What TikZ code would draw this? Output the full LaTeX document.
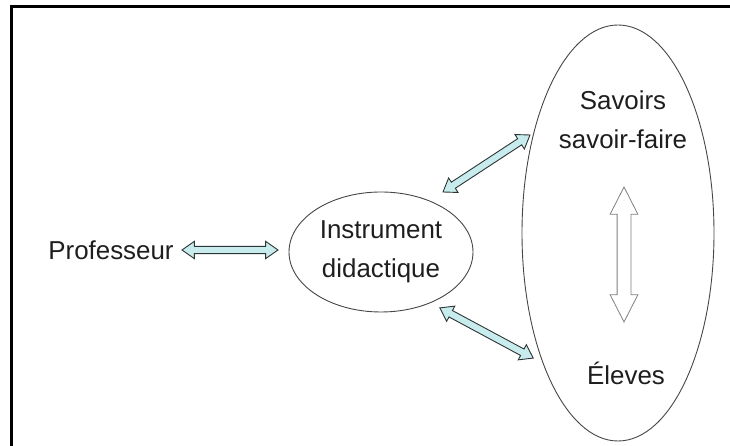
\documentclass[tikz,border=0pt]{standalone}
\usepackage{fontspec}
\setmainfont{Liberation Sans}
\usetikzlibrary{shapes.geometric,shapes.arrows}
\definecolor{linkfill}{RGB}{200,236,238}
\definecolor{linkline}{RGB}{45,52,52}
\definecolor{inkgray}{RGB}{70,70,70}
\definecolor{textink}{RGB}{30,30,30}
\begin{document}
\begin{tikzpicture}[x=1bp,y=1bp,
  lbl/.style={font=\fontsize{26}{39}\selectfont, text=textink, align=center, inner sep=0},
  oval/.style={ellipse, draw=inkgray, line width=0.9bp, inner sep=0},
  linkarrow/.style={double arrow, draw=linkline, fill=linkfill, line width=0.9bp,
    inner xsep=0, inner ysep=3.2bp, minimum width=17bp, double arrow head extend=5bp,
    double arrow tip angle=70, sloped},
  whitearrow/.style={double arrow, draw=gray, fill=white, line width=0.8bp,
    inner xsep=0, inner ysep=6.5bp, minimum width=27bp, double arrow head extend=7bp,
    double arrow tip angle=54, sloped}]
\useasboundingbox (0,0) rectangle (730,446);

% frame: top and left rules only
\draw[line width=3bp] (11.5,0) -- (11.5,439.5) -- (730,439.5);

% ovals
\node[oval, minimum width=192bp, minimum height=416bp] (grp) at (618,213) {};
\node[oval, minimum width=184bp, minimum height=120bp, lbl] (inst) at (381,194) {Instrument\\didactique};

% labels
\node[lbl] (prof) at (111,196) {Professeur};
\node[lbl] (sav) at (623,326) {Savoirs\\savoir-faire};
\node[lbl] (elev) at (626,73) {Éleves};

% arrow end points
\coordinate (p1) at (182,196);
\coordinate (p2) at (278,196);
\coordinate (u1) at (443,254);
\coordinate (u2) at (530,311);
\coordinate (d1) at (440,138);
\coordinate (d2) at (533,88);
\coordinate (v1) at (624,259);
\coordinate (v2) at (624,124);

% two-way links
\path (p1) -- (p2) node[midway, linkarrow, minimum height=96bp] (aprof) {};
\path (u1) -- (u2) node[midway, linkarrow, minimum height=104bp] (asav) {};
\path (d1) -- (d2) node[midway, linkarrow, minimum height=106bp] (aelev) {};
\path (v1) -- (v2) node[midway, whitearrow, minimum height=135bp] (ainner) {};
\end{tikzpicture}
\end{document}
